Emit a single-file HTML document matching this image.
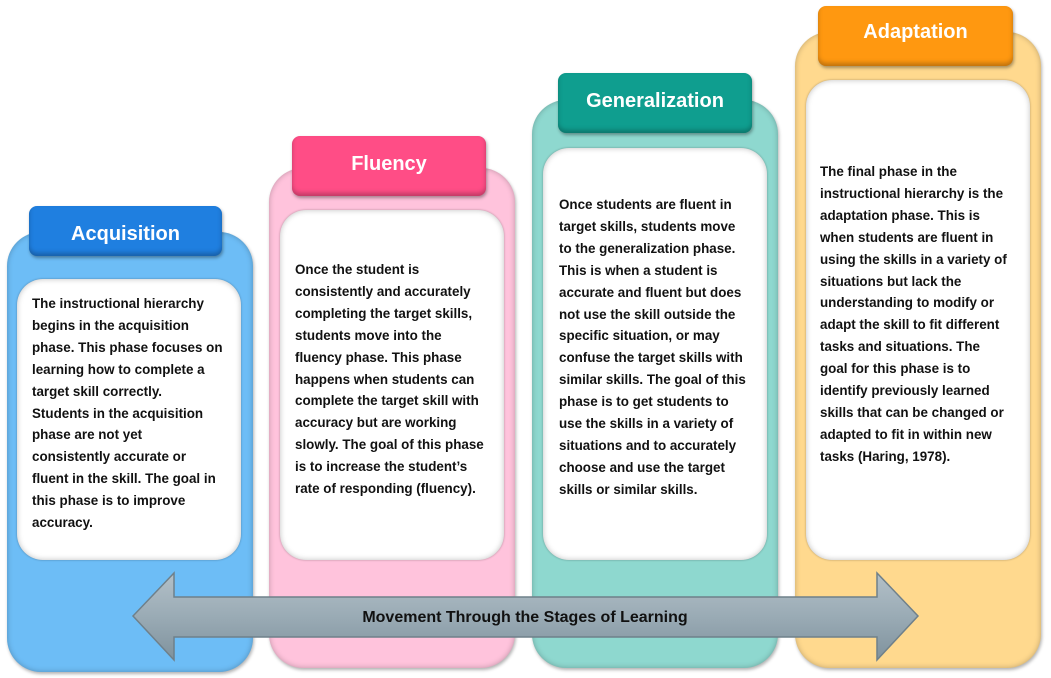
<!DOCTYPE html>
<html><head><meta charset="utf-8"><style>
body{margin:0;width:1051px;height:678px;background:#fff;position:relative;overflow:hidden;font-family:"Liberation Sans",Arial,sans-serif}
.o{position:absolute;border-radius:34px;box-shadow:inset 0 0 6px rgba(0,0,0,.25),1px 2px 3px rgba(0,0,0,.3)}
.h{position:absolute;border-radius:8px;color:#fff;font-weight:bold;font-size:20px;text-align:center;box-shadow:inset 0 -3px 5px rgba(0,0,0,.25),1px 2px 3px rgba(0,0,0,.35)}
.i{position:absolute;background:#fff;border-radius:26px;box-shadow:inset 0 0 6px rgba(0,0,0,.25),0 0 2px rgba(0,0,0,.3)}
.t{position:absolute;font-weight:bold;font-size:13.4px;line-height:21.9px;color:#111;white-space:nowrap}
</style></head><body>
<div class="o" style="left:7px;top:232px;width:246px;height:440px;background:#6dbdf6"></div>
<div class="o" style="left:269px;top:168px;width:246px;height:500px;background:#ffc3dc"></div>
<div class="o" style="left:532px;top:100px;width:246px;height:568px;background:#8ed8cf"></div>
<div class="o" style="left:795px;top:32px;width:246px;height:636px;background:#ffd98e"></div>

<div class="h" style="left:29px;top:206px;width:193px;height:50px;line-height:56px;background:#1f7fe0">Acquisition</div>
<div class="h" style="left:292px;top:136px;width:194px;height:60px;line-height:56px;background:#ff4d86">Fluency</div>
<div class="h" style="left:558px;top:73px;width:194px;height:60px;line-height:56px;background:#0f9e8f">Generalization</div>
<div class="h" style="left:818px;top:6px;width:195px;height:60px;line-height:52px;background:#ff9810">Adaptation</div>

<div class="i" style="left:17px;top:279px;width:224px;height:281px"></div>
<div class="i" style="left:280px;top:210px;width:224px;height:350px"></div>
<div class="i" style="left:543px;top:148px;width:224px;height:412px"></div>
<div class="i" style="left:806px;top:80px;width:224px;height:480px"></div>

<div class="t" style="left:32px;top:293px">The instructional hierarchy<br>begins in the acquisition<br>phase. This phase focuses on<br>learning how to complete a<br>target skill correctly.<br>Students in the acquisition<br>phase are not yet<br>consistently accurate or<br>fluent in the skill. The goal in<br>this phase is to improve<br>accuracy.</div>
<div class="t" style="left:295px;top:259px">Once the student is<br>consistently and accurately<br>completing the target skills,<br>students move into the<br>fluency phase. This phase<br>happens when students can<br>complete the target skill with<br>accuracy but are working<br>slowly. The goal of this phase<br>is to increase the student’s<br>rate of responding (fluency).</div>
<div class="t" style="left:559px;top:194px">Once students are fluent in<br>target skills, students move<br>to the generalization phase.<br>This is when a student is<br>accurate and fluent but does<br>not use the skill outside the<br>specific situation, or may<br>confuse the target skills with<br>similar skills. The goal of this<br>phase is to get students to<br>use the skills in a variety of<br>situations and to accurately<br>choose and use the target<br>skills or similar skills.</div>
<div class="t" style="left:820px;top:161px">The final phase in the<br>instructional hierarchy is the<br>adaptation phase. This is<br>when students are fluent in<br>using the skills in a variety of<br>situations but lack the<br>understanding to modify or<br>adapt the skill to fit different<br>tasks and situations. The<br>goal for this phase is to<br>identify previously learned<br>skills that can be changed or<br>adapted to fit in within new<br>tasks (Haring, 1978).</div>

<svg style="position:absolute;left:0;top:0" width="1051" height="678">
<defs><linearGradient id="g" x1="0" y1="0" x2="0" y2="1"><stop offset="0" stop-color="#b3c0c8"/><stop offset=".5" stop-color="#9aabb5"/><stop offset="1" stop-color="#7f929d"/></linearGradient></defs>
<polygon points="133,616 174,573 174,597 877,597 877,573 918,616 877,660 877,637 174,637 174,660" fill="url(#g)" stroke="#6f808a" stroke-width="1.5"/>
<text x="525" y="622" text-anchor="middle" font-family="Liberation Sans, Arial, sans-serif" font-weight="bold" font-size="16" fill="#111">Movement Through the Stages of Learning</text>
</svg>
</body></html>
